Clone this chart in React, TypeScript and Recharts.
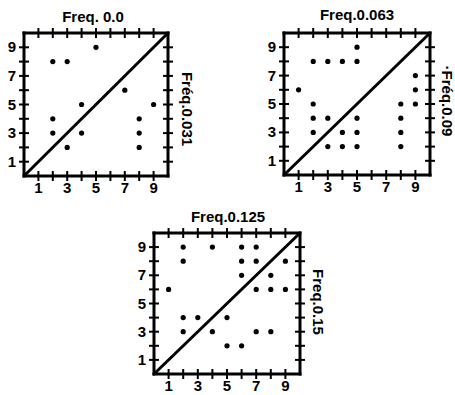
import React from "react";
import { ScatterChart, Scatter, XAxis, YAxis, ReferenceLine } from "recharts";

const allTicks = [1, 2, 3, 4, 5, 6, 7, 8, 9];
const labeledTicks = [1, 3, 5, 7, 9];

const titles = ["Freq. 0.0", "Freq.0.063", "Freq.0.125"];
const sideLabels = ["Fréq.0.031", "·Fréq.0.09", "Freq.0.15"];

const freq0X = [2, 3, 5, 7, 4, 9, 2, 2, 4, 3, 8, 8, 8];
const freq0Y = [8, 8, 9, 6, 5, 5, 4, 3, 3, 2, 4, 3, 2];

const freq063X = [5, 2, 3, 4, 5, 1, 9, 9, 9, 2, 8, 2, 3, 5, 8, 2, 4, 5, 8, 3, 4, 5, 8];
const freq063Y = [9, 8, 8, 8, 8, 6, 7, 6, 5, 5, 5, 4, 4, 4, 4, 3, 3, 3, 3, 2, 2, 2, 2];

const freq125X = [2, 4, 6, 7, 2, 6, 7, 9, 6, 8, 1, 7, 8, 9, 2, 3, 5, 2, 4, 7, 8, 5, 6];
const freq125Y = [9, 9, 9, 9, 8, 8, 8, 8, 7, 7, 6, 6, 6, 6, 4, 4, 4, 3, 3, 3, 3, 2, 2];

const FONT = "'Liberation Sans', Arial, Helvetica, sans-serif";

const toPoints = (xs: number[], ys: number[]) => xs.map((x, i) => ({ x, y: ys[i] }));

const makeTick = (side: string) => (props: any) => {
  const { x, y, payload } = props;
  const v = payload.value;
  const showLabel = labeledTicks.includes(v) && (side === "bottom" || side === "left");
  const vertical = side === "bottom" || side === "top";
  return (
    <g>
      {vertical ? (
        <line x1={x} x2={x} y1={y - 5} y2={y + 5} stroke="#000" strokeWidth={2} />
      ) : (
        <line x1={x - 5} x2={x + 5} y1={y} y2={y} stroke="#000" strokeWidth={2} />
      )}
      {showLabel && side === "bottom" && (
        <text x={x} y={y + 17} textAnchor="middle" fontSize={15} fontWeight="bold" fontFamily={FONT} fill="#000">
          {v}
        </text>
      )}
      {showLabel && side === "left" && (
        <text x={x - 8} y={y + 5} textAnchor="end" fontSize={15} fontWeight="bold" fontFamily={FONT} fill="#000">
          {v}
        </text>
      )}
    </g>
  );
};

const axisLineStyle = { stroke: "#000", strokeWidth: 3, strokeLinecap: "square" as const };

type PanelProps = {
  left: number;
  top: number;
  width: number;
  height: number;
  yLeftW: number;
  yRightW: number;
  xTopH: number;
  xBottomH: number;
  data: { x: number; y: number }[];
};

function Panel({ left, top, width, height, yLeftW, yRightW, xTopH, xBottomH, data }: PanelProps) {
  return (
    <div style={{ position: "absolute", left, top }}>
      <ScatterChart width={width} height={height} margin={{ top: 0, right: 0, bottom: 0, left: 0 }}>
        <XAxis
          xAxisId={0}
          dataKey="x"
          type="number"
          orientation="bottom"
          domain={[0, 10]}
          ticks={allTicks}
          interval={0}
          tickSize={0}
          tickLine={false}
          tickMargin={0}
          height={xBottomH}
          axisLine={axisLineStyle}
          tick={makeTick("bottom")}
          allowDataOverflow
        />
        <XAxis
          xAxisId="t"
          dataKey="x"
          type="number"
          orientation="top"
          domain={[0, 10]}
          ticks={allTicks}
          interval={0}
          tickSize={0}
          tickLine={false}
          tickMargin={0}
          height={xTopH}
          axisLine={axisLineStyle}
          tick={makeTick("top")}
          allowDataOverflow
        />
        <YAxis
          yAxisId={0}
          dataKey="y"
          type="number"
          orientation="left"
          domain={[0, 10]}
          ticks={allTicks}
          interval={0}
          tickSize={0}
          tickLine={false}
          tickMargin={0}
          width={yLeftW}
          axisLine={axisLineStyle}
          tick={makeTick("left")}
          allowDataOverflow
        />
        <YAxis
          yAxisId="r"
          dataKey="y"
          type="number"
          orientation="right"
          domain={[0, 10]}
          ticks={allTicks}
          interval={0}
          tickSize={0}
          tickLine={false}
          tickMargin={0}
          width={yRightW}
          axisLine={axisLineStyle}
          tick={makeTick("right")}
          allowDataOverflow
        />
        <ReferenceLine
          xAxisId={0}
          yAxisId={0}
          segment={[{ x: 0, y: 0 }, { x: 10, y: 10 }]}
          stroke="#000"
          strokeWidth={3}
          ifOverflow="visible"
        />
        <Scatter
          xAxisId={0}
          yAxisId={0}
          data={data}
          isAnimationActive={false}
          shape={(p: any) => <circle cx={p.cx} cy={p.cy} r={2.6} fill="#000" />}
        />
      </ScatterChart>
    </div>
  );
}

const titleStyle: React.CSSProperties = {
  position: "absolute",
  fontFamily: FONT,
  fontWeight: "bold",
  fontSize: 15,
  color: "#000",
  whiteSpace: "nowrap",
  lineHeight: "15px",
  transform: "translateX(-50%)",
};

const sideStyle: React.CSSProperties = {
  position: "absolute",
  fontFamily: FONT,
  fontWeight: "bold",
  fontSize: 15,
  color: "#000",
  whiteSpace: "nowrap",
  lineHeight: "15px",
  transform: "translate(-50%, -50%) rotate(90deg)",
};

export default function App() {
  return (
    <div style={{ position: "absolute", left: 0, top: 0, width: 455, height: 395, background: "#fff", overflow: "hidden" }}>
      <Panel left={0} top={0} width={200} height={200} yLeftW={24} yRightW={32} xTopH={33} xBottomH={24} data={toPoints(freq0X, freq0Y)} />
      <Panel left={250} top={0} width={205} height={200} yLeftW={34} yRightW={25} xTopH={33} xBottomH={25} data={toPoints(freq063X, freq063Y)} />
      <Panel left={120} top={200} width={210} height={195} yLeftW={34} yRightW={30} xTopH={33} xBottomH={21} data={toPoints(freq125X, freq125Y)} />

      <div style={{ ...titleStyle, left: 93, top: 9 }}>{titles[0]}</div>
      <div style={{ ...titleStyle, left: 357, top: 7 }}>{titles[1]}</div>
      <div style={{ ...titleStyle, left: 228, top: 209 }}>{titles[2]}</div>

      <div style={{ ...sideStyle, left: 187, top: 109 }}>{sideLabels[0]}</div>
      <div style={{ ...sideStyle, left: 447, top: 101 }}>{sideLabels[1]}</div>
      <div style={{ ...sideStyle, left: 318, top: 302 }}>{sideLabels[2]}</div>
    </div>
  );
}
